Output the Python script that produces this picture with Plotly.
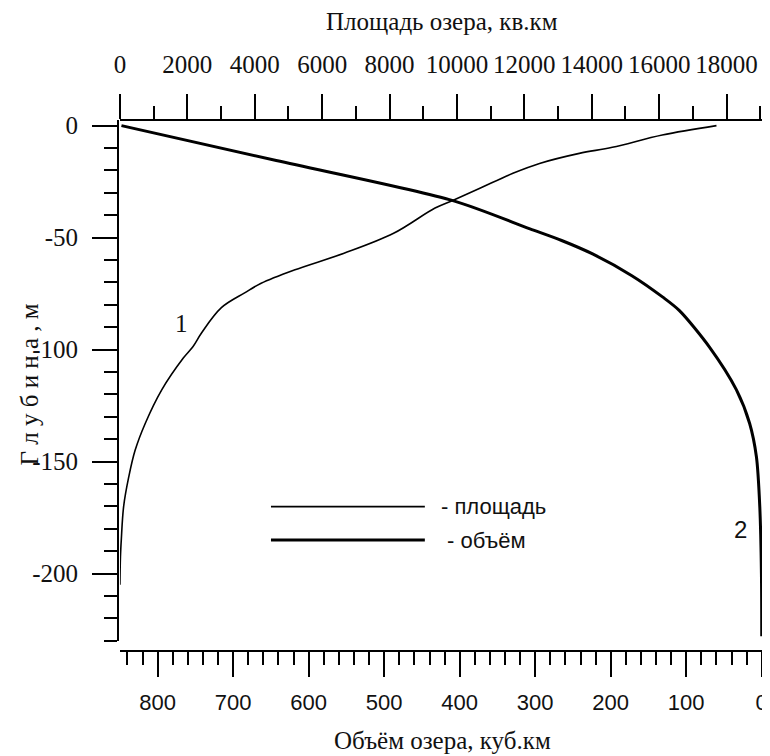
import plotly.graph_objects as go

# Area curve (1): lake area vs depth
area_depth = [0, -4.2, -9.7, -12.4, -16.9, -21.3, -28, -33.3, -36.8, -48.1, -57, -64.5,
              -70.4, -74.7, -81.3, -92.6, -98.6, -103.8, -118, -133, -145, -157, -170,
              -185, -192.5, -205]
area_km2 = [17700, 16090, 14610, 13630, 12450, 11660, 10680, 9890, 9350, 8120, 6650, 5170,
            4190, 3700, 3010, 2420, 2170, 1880, 1240, 750, 450, 260, 110, 40, 15, 0]

# Volume curve (2): lake volume vs depth
vol_depth = [0, -15.6, -33.5, -46.1, -51.3, -57.3, -67, -76.6, -82.6, -99, -118, -133,
             -148, -170, -200, -228]
volume_km3 = [848, 643, 409, 307, 265, 224, 172, 131, 109, 69, 33.5, 16, 7, 2.6, 0.4, 0]

# tick labels
depth_ticks = [0, -50, -100, -150, -200]
depth_labels = ['0', '-50', '-100', '-150', '-200']

serif = 'Liberation Serif'
sans = 'Liberation Sans'
ink = '#111111'

fig = go.Figure()
fig.add_trace(go.Scatter(x=area_km2, y=area_depth, xaxis='x2', yaxis='y', mode='lines',
                         line=dict(color='black', width=1.6, shape='spline', smoothing=1.0),
                         name='площадь'))
fig.add_trace(go.Scatter(x=volume_km3, y=vol_depth, xaxis='x', yaxis='y', mode='lines',
                         line=dict(color='black', width=3, shape='spline', smoothing=0.8),
                         name='объём'))

axis_common = dict(showline=True, linecolor='black', linewidth=2, ticks='outside',
                   tickcolor='black', tickwidth=2, ticklen=25, showgrid=False,
                   zeroline=False, automargin=False)

# the page body adds an 8px offset, so the figure is 8px smaller than the window
fig.update_layout(
    width=762, height=748,
    margin=dict(l=110, r=6, t=112, b=105),
    plot_bgcolor='white', paper_bgcolor='white',
    showlegend=False,
    xaxis=dict(range=[850, -3], domain=[0.003, 1], anchor='free', position=0, side='bottom',
               dtick=100, tick0=0,
               minor=dict(dtick=20, ticklen=13, tickwidth=2, tickcolor='black', ticks='outside'),
               tickfont=dict(family=sans, size=22, color=ink), ticklabelstandoff=7,
               **axis_common),
    xaxis2=dict(range=[0, 19110], overlaying='x', anchor='free', position=1, side='top',
                dtick=2000, tick0=0, tickformat='d',
                minor=dict(dtick=1000, ticklen=13, tickwidth=2, tickcolor='black', ticks='outside'),
                tickfont=dict(family=serif, size=25, color=ink), ticklabelstandoff=11,
                **axis_common),
    yaxis=dict(range=[-230, 2.5], domain=[0.0194, 1], anchor='free', position=0,
               tickvals=depth_ticks, ticktext=depth_labels,
               minor=dict(dtick=10, tick0=0, ticklen=13, tickwidth=2, tickcolor='black',
                          ticks='outside'),
               tickfont=dict(family=serif, size=25, color=ink), ticklabelstandoff=9,
               **axis_common),
)

def note(text, x, y, family, size, xanchor='center', angle=0):
    fig.add_annotation(text=text, xref='paper', yref='paper', x=x, y=y, showarrow=False,
                       xanchor=xanchor, yanchor='middle', textangle=angle,
                       font=dict(family=family, size=size, color=ink))

# axis titles
note('Площадь озера, кв.км', 0.5016, 1.1864, serif, 25)
note('Объём озера, куб.км', 0.5016, -0.168, serif, 25)
note('Г л у б и н а , м', -0.137, 0.503, serif, 25, angle=-90)

# curve labels
note('1', 0.0985, 0.616, serif, 25)
note('2', 0.964, 0.229, sans, 24)

# hand-drawn legend
fig.add_shape(type='line', xref='paper', yref='paper', x0=0.2368, x1=0.475, y0=0.2718, y1=0.2718,
              line=dict(color='black', width=1.6))
fig.add_shape(type='line', xref='paper', yref='paper', x0=0.2368, x1=0.475, y0=0.2090, y1=0.2090,
              line=dict(color='black', width=3))
note('- площадь', 0.497, 0.2718, sans, 22, xanchor='left')
note('- объём', 0.506, 0.2090, sans, 22, xanchor='left')

fig.write_html('out.html')
